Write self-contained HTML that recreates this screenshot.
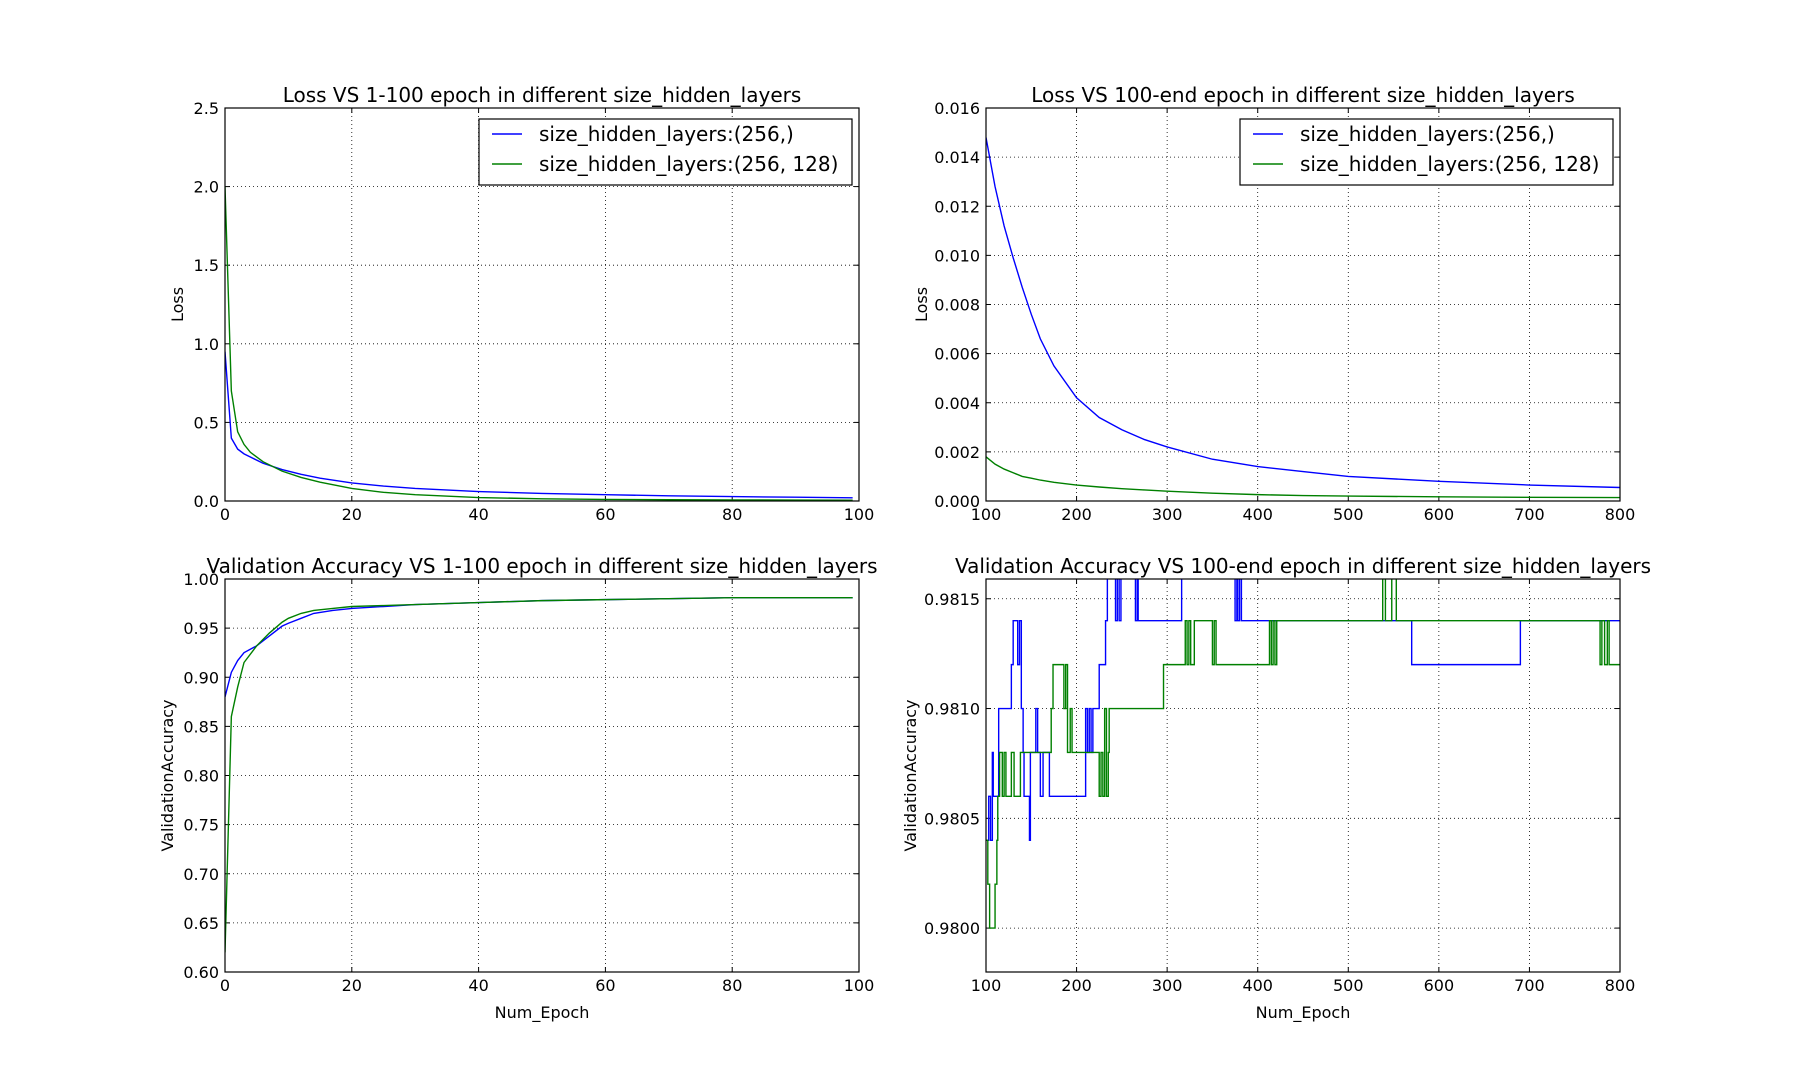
<!DOCTYPE html>
<html><head><meta charset="utf-8">
<style>
html,body{margin:0;padding:0;background:#fff;}
svg text{font-family:"DejaVu Sans","Liberation Sans",sans-serif;fill:#000;}
</style></head>
<body>
<svg id="fig" width="1800" height="1080" xmlns="http://www.w3.org/2000/svg">
<rect width="1800" height="1080" fill="#fff"/>
</svg>
<script>
// ---- data: top-left loss (epochs 0-99)
const lossEpA = [0,1,2,3,4,6,9,12,15,20,25,30,40,50,60,70,80,90,99];
const lossBlueA = [0.95,0.40,0.33,0.30,0.28,0.24,0.20,0.17,0.145,0.115,0.095,0.08,0.06,0.048,0.04,0.033,0.028,0.024,0.02];
const lossGreenA = [2.0,0.70,0.44,0.36,0.31,0.25,0.19,0.15,0.12,0.08,0.055,0.04,0.022,0.014,0.01,0.008,0.007,0.006,0.005];
// ---- top-right loss (epochs 100-800)
const lossEpB = [100,110,120,130,140,150,160,175,200,225,250,275,300,350,400,450,500,600,700,800];
const lossBlueB = [0.0148,0.0128,0.0112,0.0099,0.0087,0.0076,0.0066,0.0055,0.0042,0.0034,0.0029,0.0025,0.0022,0.0017,0.0014,0.0012,0.0010,0.0008,0.00065,0.00055];
const lossGreenB = [0.0018,0.0015,0.0013,0.00115,0.0010,0.00093,0.00085,0.00076,0.00065,0.00057,0.0005,0.00045,0.0004,0.00032,0.00026,0.00022,0.0002,0.00017,0.00015,0.00014];
// ---- bottom-left accuracy (epochs 0-99)
const accEpA = [0,1,2,3,5,7,9,10,12,14,17,20,25,30,40,50,60,70,80,90,99];
const accBlueA = [0.88,0.905,0.917,0.925,0.932,0.942,0.952,0.955,0.96,0.965,0.968,0.970,0.972,0.974,0.976,0.978,0.979,0.98,0.981,0.981,0.981];
const accGreenA = [0.62,0.86,0.89,0.915,0.932,0.945,0.956,0.96,0.965,0.968,0.970,0.972,0.973,0.974,0.976,0.978,0.979,0.98,0.981,0.981,0.981];
// ---- bottom-right accuracy steps (epoch at which value begins)
const accEpBlue = [100,103,105,107,108,114,128,130,135,137,139,141,142,148,149,155,157,160,163,170,210,212,214,216,218,225,232,234,243,245,247,249,265,267,268,316,375,377,378,380,382,570,690,800];
const accValBlue = [0.9804,0.9806,0.9804,0.9808,0.9806,0.9810,0.9812,0.9814,0.9812,0.9814,0.9810,0.9808,0.9806,0.9804,0.9808,0.9810,0.9808,0.9806,0.9808,0.9806,0.9810,0.9808,0.9810,0.9808,0.9810,0.9812,0.9814,0.9816,0.9814,0.9816,0.9814,0.9816,0.9814,0.9816,0.9814,0.9816,0.9814,0.9816,0.9814,0.9816,0.9814,0.9812,0.9814,0.9814];
const accEpGreen = [100,102,104,110,112,113,115,118,120,122,128,131,138,172,174,186,188,190,193,195,225,227,229,231,233,235,236,296,320,322,324,326,330,350,352,354,413,415,417,419,421,538,541,548,553,778,780,783,786,788,800];
const accValGreen = [0.9804,0.9802,0.9800,0.9802,0.9804,0.9806,0.9808,0.9806,0.9808,0.9806,0.9808,0.9806,0.9808,0.9810,0.9812,0.9810,0.9812,0.9808,0.9810,0.9808,0.9806,0.9808,0.9806,0.9810,0.9806,0.9808,0.9810,0.9812,0.9814,0.9812,0.9814,0.9812,0.9814,0.9812,0.9814,0.9812,0.9814,0.9812,0.9814,0.9812,0.9814,0.9816,0.9814,0.9816,0.9814,0.9812,0.9814,0.9812,0.9814,0.9812,0.9812];
const ticksXA = [0,20,40,60,80,100];
const ticksXB = [100,200,300,400,500,600,700,800];
const ticksLossA = [0.0,0.5,1.0,1.5,2.0,2.5];
const ticksLossB = [0,0.002,0.004,0.006,0.008,0.010,0.012,0.014,0.016];
const ticksAccA = [0.60,0.65,0.70,0.75,0.80,0.85,0.90,0.95,1.00];
const ticksAccB = [0.9800,0.9805,0.9810,0.9815];

const NS="http://www.w3.org/2000/svg";
const fig=document.getElementById('fig');
function mk(tag,attrs,parent){const e=document.createElementNS(NS,tag);for(const k in attrs)e.setAttribute(k,attrs[k]);(parent||fig).appendChild(e);return e;}

function panel(o){
  const g=mk('g',{});
  
  
  const sx=v=>o.L+(v-o.xmin)/(o.xmax-o.xmin)*(o.R-o.L);
  const sy=v=>o.B-(v-o.ymin)/(o.ymax-o.ymin)*(o.B-o.T);
  const cid='clip-'+o.name;
  const cp=mk('clipPath',{id:cid},g);mk('rect',{x:o.L,y:o.T,width:o.R-o.L,height:o.B-o.T},cp);
  o.xt.forEach(v=>{const x=sx(v);
    const gl=mk('line',{x1:x,x2:x,y1:o.T,y2:o.B,stroke:'#000','stroke-width':0.8,'stroke-dasharray':'1,3'},g);
    
    
    mk('line',{x1:x,x2:x,y1:o.B,y2:o.B-5,stroke:'#000'},g);mk('line',{x1:x,x2:x,y1:o.T,y2:o.T+5,stroke:'#000'},g);
    const t=mk('text',{x:x,y:o.B+19,'text-anchor':'middle','font-size':16},g);t.textContent=o.xf(v);
    
    
  });
  o.yt.forEach(v=>{const y=sy(v);
    const gl=mk('line',{x1:o.L,x2:o.R,y1:y,y2:y,stroke:'#000','stroke-width':0.8,'stroke-dasharray':'1,3'},g);
    
    
    mk('line',{x1:o.L,x2:o.L+5,y1:y,y2:y,stroke:'#000'},g);mk('line',{x1:o.R,x2:o.R-5,y1:y,y2:y,stroke:'#000'},g);
    const t=mk('text',{x:o.L-6,y:y+6,'text-anchor':'end','font-size':16},g);t.textContent=o.yf(v);
    
    
  });
  o.series.forEach(s=>{
    let d='';
    s.x.forEach((xv,i)=>{
      if(i===0){d+='M'+sx(xv)+','+sy(s.y[i]);return;}
      if(o.step) d+='L'+sx(xv)+','+sy(s.y[i-1]);
      d+='L'+sx(xv)+','+sy(s.y[i]);
    });
    const p=mk('path',{d:d,fill:'none',stroke:s.c,'stroke-width':1.4,'clip-path':'url(#'+cid+')'},g);
    
    
  });
  const fr=mk('rect',{x:o.L,y:o.T,width:o.R-o.L,height:o.B-o.T,fill:'none',stroke:'#000','stroke-width':1.2},g);
  
  
  const ti=mk('text',{x:(o.L+o.R)/2,y:o.T-6,'text-anchor':'middle','font-size':20},g);ti.textContent=o.title;
  
  
  const yl=mk('text',{x:0,y:0,'text-anchor':'middle','font-size':16,transform:'translate('+o.ylx+','+((o.T+o.B)/2)+') rotate(-90)'},g);yl.textContent=o.ylabel;
  
  
  if(o.xlabel){const xl=mk('text',{x:(o.L+o.R)/2,y:o.B+46,'text-anchor':'middle','font-size':16},g);xl.textContent=o.xlabel;
    
    }
  if(o.legend){
    const lg=mk('g',{},g);
    
    
    const lx=o.R-380, ly=o.T+11;
    mk('rect',{x:lx,y:ly,width:373,height:66,fill:'#fff',stroke:'#000','stroke-width':1.2},lg);
    o.series.forEach((s,i)=>{
      const yy=ly+15+i*30;
      mk('line',{x1:lx+13,x2:lx+43,y1:yy,y2:yy,stroke:s.c,'stroke-width':1.4},lg);
      const t=mk('text',{x:lx+60,y:yy+7,'font-size':20},lg);t.textContent=s.label;
      
      
    });
  }
}
const L1=225,R1=859,L2=986,R2=1620,T1=108,B1=501,T2=579,B2=972;
const f1=v=>v.toFixed(1), f2=v=>v.toFixed(2), f3=v=>v.toFixed(3), f4=v=>v.toFixed(4), fi=v=>String(v);
panel({name:'loss-early-chart',L:L1,R:R1,T:T1,B:B1,xmin:0,xmax:100,ymin:0,ymax:2.5,xt:ticksXA,yt:ticksLossA,xf:fi,yf:f1,
 title:'Loss VS 1-100 epoch in different size_hidden_layers',ylabel:'Loss',ylx:183,legend:true,
 series:[{x:lossEpA,y:lossBlueA,c:'#0000ff',n:'loss-line-256',label:'size_hidden_layers:(256,)'},{x:lossEpA,y:lossGreenA,c:'#008000',n:'loss-line-256-128',label:'size_hidden_layers:(256, 128)'}]});
panel({name:'loss-late-chart',L:L2,R:R2,T:T1,B:B1,xmin:100,xmax:800,ymin:0,ymax:0.016,xt:ticksXB,yt:ticksLossB,xf:fi,yf:f3,
 title:'Loss VS 100-end epoch in different size_hidden_layers',ylabel:'Loss',ylx:927,legend:true,
 series:[{x:lossEpB,y:lossBlueB,c:'#0000ff',n:'loss-line-256',label:'size_hidden_layers:(256,)'},{x:lossEpB,y:lossGreenB,c:'#008000',n:'loss-line-256-128',label:'size_hidden_layers:(256, 128)'}]});
panel({name:'accuracy-early-chart',L:L1,R:R1,T:T2,B:B2,xmin:0,xmax:100,ymin:0.6,ymax:1.0,xt:ticksXA,yt:ticksAccA,xf:fi,yf:f2,
 title:'Validation Accuracy VS 1-100 epoch in different size_hidden_layers',ylabel:'ValidationAccuracy',ylx:173,xlabel:'Num_Epoch',
 series:[{x:accEpA,y:accBlueA,c:'#0000ff',n:'accuracy-line-256'},{x:accEpA,y:accGreenA,c:'#008000',n:'accuracy-line-256-128'}]});
panel({name:'accuracy-late-chart',L:L2,R:R2,T:T2,B:B2,xmin:100,xmax:800,ymin:0.9798,ymax:0.98159,xt:ticksXB,yt:ticksAccB,xf:fi,yf:f4,step:true,
 title:'Validation Accuracy VS 100-end epoch in different size_hidden_layers',ylabel:'ValidationAccuracy',ylx:916,xlabel:'Num_Epoch',
 series:[{x:accEpBlue,y:accValBlue,c:'#0000ff',n:'accuracy-line-256'},{x:accEpGreen,y:accValGreen,c:'#008000',n:'accuracy-line-256-128'}]});
</script>
</body></html>
